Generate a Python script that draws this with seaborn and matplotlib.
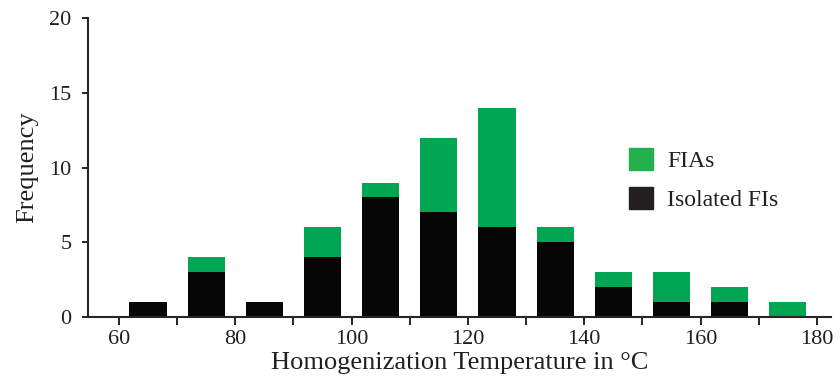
import matplotlib
matplotlib.use('Agg')
import matplotlib.pyplot as plt
import matplotlib.patches as mpatches
import pandas as pd
import seaborn as sns

# bin centres (°C) and counts
temps = [65, 75, 85, 95, 105, 115, 125, 135, 145, 155, 165, 175]
isolated = [1, 3, 1, 4, 8, 7, 6, 5, 2, 1, 1, 0]
fias = [0, 1, 0, 2, 1, 5, 8, 1, 1, 2, 1, 1]

df = pd.DataFrame({'temp': temps, 'isolated': isolated, 'fias': fias})
df['total'] = df['isolated'] + df['fias']

sns.set_style('ticks')
plt.rcParams['font.family'] = ['Liberation Serif', 'DejaVu Serif']

fig = plt.figure(figsize=(8.4, 3.83), dpi=100)
ax = fig.add_axes([0.105, 0.172, 0.884, 0.781])

# stacked: draw totals in green, isolated in black on top
sns.barplot(data=df, x='temp', y='total', native_scale=True, width=0.64,
            color='#00a651', saturation=1, linewidth=0, ax=ax)
sns.barplot(data=df, x='temp', y='isolated', native_scale=True, width=0.64,
            color='#060606', saturation=1, linewidth=0, ax=ax)

ax.set_xlim(54.7, 182.4)
ax.set_ylim(0, 20)
ax.set_xticks(range(60, 181, 20))
ax.set_xticks(range(70, 180, 20), minor=True)
ax.set_yticks([0, 5, 10, 15, 20])
ax.tick_params(axis='both', which='both', direction='out', width=1.2,
               colors='black', labelcolor='#231f20', labelsize=16)
ax.tick_params(axis='x', which='both', length=5.5, pad=4)
ax.tick_params(axis='y', length=4, pad=8)
sns.despine(ax=ax)
for s in ['left', 'bottom']:
    ax.spines[s].set_linewidth(1.5)

ax.set_xlabel('Homogenization Temperature in °C', fontsize=19, color='#231f20', labelpad=2)
ax.set_ylabel('Frequency', fontsize=19, color='#231f20', labelpad=8)

handles = [mpatches.Patch(color='#22b14c', label='FIAs'),
           mpatches.Patch(color='#231f20', label='Isolated FIs')]
leg = ax.legend(handles=handles, loc='upper left', bbox_to_anchor=(0.70, 0.635),
                frameon=False, fontsize=17, handlelength=1.0, handleheight=1.0,
                labelspacing=0.65, handletextpad=0.6)
for t in leg.get_texts():
    t.set_color('#231f20')

plt.savefig('out.png', dpi=100)
